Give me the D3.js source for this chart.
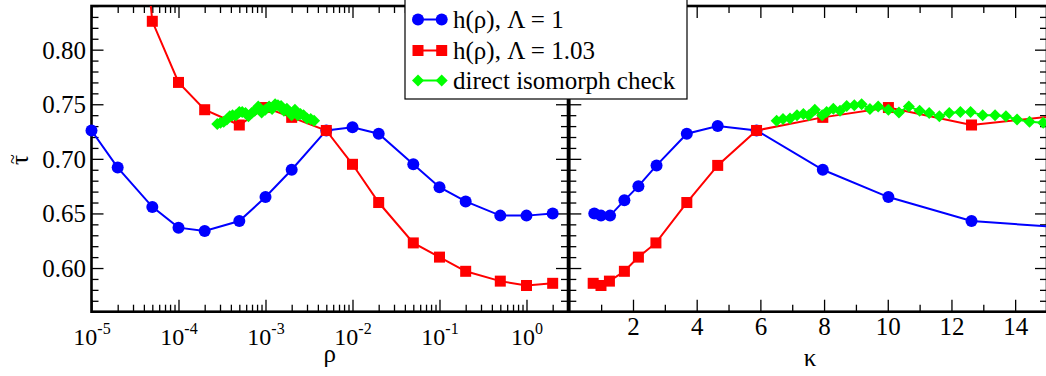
<!DOCTYPE html>
<html><head><meta charset="utf-8">
<script src="https://cdn.jsdelivr.net/npm/d3@7"></script>
<style>
body{margin:0;background:#fff;}
svg{display:block;}
svg text{font-family:"Liberation Serif","Times New Roman",Times,"DejaVu Serif",serif;}
</style></head><body><svg id="c" width="1046" height="376"></svg>
<script>
// ---------- data ----------
const rhoTicks = [1e-5, 1e-4, 1e-3, 1e-2, 1e-1, 1e0];
const rhoTickExp = ["-5", "-4", "-3", "-2", "-1", "0"];
const tauTicks = [0.60, 0.65, 0.70, 0.75, 0.80];
const kappaTicks = [2, 4, 6, 8, 10, 12, 14];

const rhoBlue = [1e-5, 2e-5, 5e-5, 1e-4, 2e-4, 5e-4, 1e-3, 2e-3, 5e-3, 1e-2, 2e-2, 5e-2, 0.1, 0.2, 0.5, 1, 2];
const tauBlueRho = [0.726, 0.692, 0.656, 0.637, 0.634, 0.643, 0.665, 0.690, 0.726, 0.729, 0.723, 0.695, 0.674, 0.661, 0.648, 0.648, 0.650];
const rhoRed = [2e-5, 5e-5, 1e-4, 2e-4, 5e-4, 1e-3, 2e-3, 5e-3, 1e-2, 2e-2, 5e-2, 0.1, 0.2, 0.5, 1, 2];
const tauRedRho = [1.15, 0.826, 0.770, 0.745, 0.731, 0.747, 0.738, 0.726, 0.695, 0.660, 0.623, 0.610, 0.597, 0.588, 0.584, 0.586];

const kappaBlue = [17.1, 12.63, 10.02, 7.96, 5.88, 4.66, 3.69, 2.74, 2.17, 1.73, 1.28, 0.995, 0.785];
const tauBlueKappa = [0.634, 0.643, 0.665, 0.690, 0.726, 0.730, 0.723, 0.694, 0.675, 0.662, 0.648, 0.648, 0.650];
const kappaRed = [17.1, 12.63, 10.02, 7.96, 5.88, 4.66, 3.69, 2.72, 2.17, 1.73, 1.26, 0.995, 0.75];
const tauRedKappa = [0.745, 0.731, 0.747, 0.738, 0.726, 0.694, 0.660, 0.623, 0.610, 0.597, 0.588, 0.584, 0.586];

const kappaGreen = [6.51, 6.71, 6.93, 7.15, 7.35, 7.52, 7.71, 7.94, 8.08, 8.29, 8.50, 8.71, 8.95, 9.18, 9.44, 9.70, 10.02, 10.35, 10.66, 11.0, 11.3, 11.62, 11.93, 12.28, 12.6, 12.98, 13.37, 13.71, 14.06, 14.45, 14.88, 15.3];
const rhoGreen = [3.62e-3, 3.31e-3, 3.00e-3, 2.74e-3, 2.52e-3, 2.35e-3, 2.18e-3, 2.00e-3, 1.90e-3, 1.76e-3, 1.63e-3, 1.51e-3, 1.39e-3, 1.29e-3, 1.19e-3, 1.10e-3, 9.94e-4, 9.02e-4, 8.26e-4, 7.51e-4, 6.93e-4, 6.37e-4, 5.89e-4, 5.40e-4, 5.00e-4, 4.57e-4, 4.18e-4, 3.88e-4, 3.60e-4, 3.31e-4, 3.04e-4, 2.79e-4];
const tauGreen = [0.735, 0.7365, 0.737, 0.740, 0.741, 0.740, 0.745, 0.740, 0.743, 0.746, 0.744, 0.7485, 0.749, 0.750, 0.7457, 0.748, 0.745, 0.7425, 0.748, 0.744, 0.742, 0.739, 0.742, 0.743, 0.743, 0.740, 0.740, 0.739, 0.736, 0.734, 0.733, 0.732];

const legendLabels = ["h(\u03c1), \u039b = 1", "h(\u03c1), \u039b = 1.03", "direct isomorph check"];

// ---------- layout ----------
const FONT = "Liberation Serif, Times New Roman, Times, DejaVu Serif, serif";
const svg = d3.select("#c");
const pTop = 6, pBottom = 311.7;
const L0 = 91.5, L1 = 568, R0 = 569.3, R1 = 1047;
const y = d3.scaleLinear().domain([0.56, 0.84]).range([pBottom, pTop]);
const xL = d3.scaleLog().domain([1e-5, 3]).range([L0, L1]);
const xR = d3.scaleLinear().domain([0, 15]).range([R0, R1]);

const tauMinor = d3.range(56, 85).filter(i => i % 5 !== 0).map(i => i / 100);
const rhoMinor = [];
[-5, -4, -3, -2, -1, 0].forEach(e => { for (let k = 2; k <= 9; k++) { const v = k * Math.pow(10, e); if (v <= 3) rhoMinor.push(v); } });
const kappaMinor = d3.range(1, 16, 2);

const BLUE = "#0000ff", RED = "#ff0000", GREEN = "#00ff00";
const MAJ = 12, MIN = 7;

function tickAxis(g, axis) {
  g.call(axis);
  g.select(".domain").remove();
  g.selectAll(".tick line").attr("stroke", "#000").attr("stroke-width", 1.3);
}

function frameAxes(x, x0, x1, xMaj, xMin) {
  const g = svg.append("g");
  tickAxis(g.append("g").attr("transform", `translate(${x0},0)`), d3.axisRight(y).tickValues(tauTicks).tickSize(MAJ).tickFormat(""));
  tickAxis(g.append("g").attr("transform", `translate(${x0},0)`), d3.axisRight(y).tickValues(tauMinor).tickSize(MIN).tickFormat(""));
  tickAxis(g.append("g").attr("transform", `translate(${x1},0)`), d3.axisLeft(y).tickValues(tauTicks).tickSize(MAJ).tickFormat(""));
  tickAxis(g.append("g").attr("transform", `translate(${x1},0)`), d3.axisLeft(y).tickValues(tauMinor).tickSize(MIN).tickFormat(""));
  tickAxis(g.append("g").attr("transform", `translate(0,${pBottom})`), d3.axisTop(x).tickValues(xMaj).tickSize(MAJ).tickFormat(""));
  tickAxis(g.append("g").attr("transform", `translate(0,${pBottom})`), d3.axisTop(x).tickValues(xMin).tickSize(MIN).tickFormat(""));
  tickAxis(g.append("g").attr("transform", `translate(0,${pTop})`), d3.axisBottom(x).tickValues(xMaj).tickSize(MAJ).tickFormat(""));
  tickAxis(g.append("g").attr("transform", `translate(0,${pTop})`), d3.axisBottom(x).tickValues(xMin).tickSize(MIN).tickFormat(""));
  g.append("rect").attr("x", x0).attr("y", pTop).attr("width", x1 - x0).attr("height", pBottom - pTop)
    .attr("fill", "none").attr("stroke", "#000").attr("stroke-width", 2.6);
}

const defs = svg.append("defs");
defs.append("clipPath").attr("id", "clipL").append("rect").attr("x", L0).attr("y", pTop).attr("width", L1 - L0).attr("height", pBottom - pTop);
defs.append("clipPath").attr("id", "clipR").append("rect").attr("x", R0).attr("y", pTop).attr("width", R1 - R0).attr("height", pBottom - pTop);

function marker(g, type, color, cx, cy) {
  if (type === "circle") g.append("circle").attr("cx", cx).attr("cy", cy).attr("r", 6).attr("fill", color);
  else if (type === "square") g.append("rect").attr("x", cx - 5.5).attr("y", cy - 5.5).attr("width", 11).attr("height", 11).attr("fill", color);
  else g.append("path").attr("d", `M${cx},${cy - 6}L${cx + 6},${cy}L${cx},${cy + 6}L${cx - 6},${cy}Z`).attr("fill", color);
}

function series(x, clip, xs, ys, color, type) {
  const pts = xs.map((v, i) => [v, ys[i]]);
  const g = svg.append("g");
  g.append("path").attr("clip-path", `url(#${clip})`)
    .attr("d", d3.line().x(d => x(d[0])).y(d => y(d[1]))(pts))
    .attr("fill", "none").attr("stroke", color).attr("stroke-width", 2);
  const [d0, d1] = x.domain();
  pts.filter(d => d[0] >= d0 && d[0] <= d1 && d[1] >= 0.56 && d[1] <= 0.84)
    .forEach(d => marker(g, type, color, x(d[0]), y(d[1])));
}

// axes frames
frameAxes(xL, L0, L1, rhoTicks, rhoMinor);
frameAxes(xR, R0, R1, kappaTicks, kappaMinor);

// data
series(xL, "clipL", rhoBlue, tauBlueRho, BLUE, "circle");
series(xL, "clipL", rhoRed, tauRedRho, RED, "square");
series(xL, "clipL", rhoGreen, tauGreen, GREEN, "diamond");
series(xR, "clipR", kappaBlue, tauBlueKappa, BLUE, "circle");
series(xR, "clipR", kappaRed, tauRedKappa, RED, "square");
series(xR, "clipR", kappaGreen, tauGreen, GREEN, "diamond");

// tick labels
const yl = svg.append("g").attr("transform", `translate(${L0},0)`)
  .call(d3.axisLeft(y).tickValues(tauTicks).tickSize(0).tickPadding(5.5).tickFormat(d3.format(".2f")));
yl.select(".domain").remove();
yl.attr("font-family", FONT);
yl.selectAll(".tick text").attr("font-size", 25).attr("font-family", FONT).attr("fill", "#000").attr("dy", "0.34em");

const xlab = svg.append("g").attr("transform", `translate(0,${pBottom})`)
  .call(d3.axisBottom(xL).tickValues(rhoTicks).tickSize(0).tickFormat(""));
xlab.select(".domain").remove();
xlab.attr("font-family", FONT);
xlab.selectAll(".tick text").each(function (d, i) {
  const t = d3.select(this).attr("y", 33.3).attr("dy", 0).attr("fill", "#000").attr("font-family", FONT);
  t.append("tspan").attr("font-size", 24).text("10");
  t.append("tspan").attr("font-size", 16).attr("dy", -11).text(rhoTickExp[i]);
});

const klab = svg.append("g").attr("transform", `translate(0,${pBottom})`)
  .call(d3.axisBottom(xR).tickValues(kappaTicks).tickSize(0).tickFormat(d3.format("d")));
klab.select(".domain").remove();
klab.attr("font-family", FONT);
klab.selectAll(".tick text").attr("y", 23.5).attr("dy", 0).attr("font-size", 25).attr("font-family", FONT).attr("fill", "#000");

// axis titles
svg.append("text").attr("x", (L0 + L1) / 2).attr("y", 362).attr("text-anchor", "middle").attr("font-size", 25).text("\u03c1");
svg.append("text").attr("x", (R0 + R1) / 2 + 2).attr("y", 366).attr("text-anchor", "middle").attr("font-size", 25).text("\u03ba");
const yt = svg.append("g").attr("transform", "translate(20,160) rotate(-90)");
yt.append("text").attr("x", 0).attr("y", 8).attr("text-anchor", "middle").attr("font-size", 25).text("\u03c4");
yt.append("text").attr("x", 1).attr("y", -1.5).attr("text-anchor", "middle").attr("font-size", 18).text("~");

// legend
const lg = svg.append("g");
lg.append("rect").attr("x", 405).attr("y", -2).attr("width", 282).attr("height", 101)
  .attr("fill", "#fff").attr("stroke", "#000").attr("stroke-width", 1.2);
const legColors = [BLUE, RED, GREEN], legTypes = ["circle", "square", "diamond"], legY = [19.5, 50.5, 80.5];
legendLabels.forEach((lab, i) => {
  lg.append("line").attr("x1", 418).attr("x2", 441.7).attr("y1", legY[i]).attr("y2", legY[i]).attr("stroke", legColors[i]).attr("stroke-width", 2);
  marker(lg, legTypes[i], legColors[i], 418, legY[i]);
  marker(lg, legTypes[i], legColors[i], 441.7, legY[i]);
  lg.append("text").attr("x", 453).attr("y", legY[i]).attr("dy", "0.34em").attr("font-size", 25).text(lab);
});
</script></body></html>
